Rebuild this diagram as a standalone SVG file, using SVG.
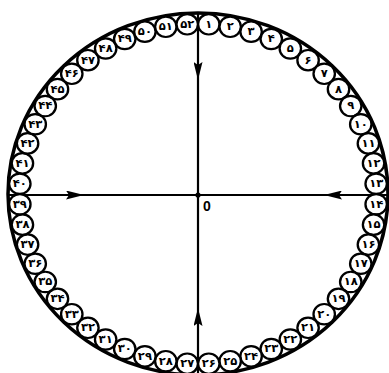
<svg xmlns="http://www.w3.org/2000/svg" width="389" height="373" viewBox="0 0 389 373">
<defs>
<style>
.ring{fill:none;stroke:#000;stroke-width:3.5}
.n circle{fill:#fff;stroke:#000;stroke-width:2.2}
.n text{font-family:"DejaVu Sans","Noto Sans",sans-serif;font-size:11px;font-weight:bold;text-anchor:middle;dominant-baseline:central;fill:#000}
.ax{fill:none;stroke:#000;stroke-width:2.2;marker-mid:url(#ah)}
.lbl{font-family:"Liberation Sans",Arial,sans-serif;font-size:14px;font-weight:bold;fill:#000}
</style>
<marker id="ah" viewBox="0 0 18 9" refX="18" refY="4.5" markerWidth="18" markerHeight="9" markerUnits="userSpaceOnUse" orient="auto">
<path d="M0,0 L18,4.5 L0,9 L3,4.5 Z" fill="#000"/>
</marker>
</defs>
<rect width="389" height="373" fill="#fff"/>
<ellipse class="ring" cx="198" cy="194" rx="190" ry="181"/>
<g id="connectors">
<path class="ax" d="M198,13 L198,80 L198,194"/>
<path class="ax" d="M198,375 L198,308 L198,194"/>
<path class="ax" d="M8,195 L84,195 L198,195"/>
<path class="ax" d="M388,195 L324,195 L198,195"/>
<circle cx="198" cy="195" r="2.6" fill="#000"/>
</g>
<g id="origin"><text class="lbl" x="203" y="211">0</text></g>
<g id="nodes">
<g id="n1" class="n" transform="translate(198,194) scale(1.05,1) rotate(3.4615) translate(0,-170) rotate(-3.4615)"><circle r="10.2"/><text>۱</text></g>
<g id="n2" class="n" transform="translate(198,194) scale(1.05,1) rotate(10.3846) translate(0,-170) rotate(-10.3846)"><circle r="10.2"/><text>۲</text></g>
<g id="n3" class="n" transform="translate(198,194) scale(1.05,1) rotate(17.3077) translate(0,-170) rotate(-17.3077)"><circle r="10.2"/><text>۳</text></g>
<g id="n4" class="n" transform="translate(198,194) scale(1.05,1) rotate(24.2308) translate(0,-170) rotate(-24.2308)"><circle r="10.2"/><text>۴</text></g>
<g id="n5" class="n" transform="translate(198,194) scale(1.05,1) rotate(31.1538) translate(0,-170) rotate(-31.1538)"><circle r="10.2"/><text>۵</text></g>
<g id="n6" class="n" transform="translate(198,194) scale(1.05,1) rotate(38.0769) translate(0,-170) rotate(-38.0769)"><circle r="10.2"/><text>۶</text></g>
<g id="n7" class="n" transform="translate(198,194) scale(1.05,1) rotate(45) translate(0,-170) rotate(-45)"><circle r="10.2"/><text>۷</text></g>
<g id="n8" class="n" transform="translate(198,194) scale(1.05,1) rotate(51.9231) translate(0,-170) rotate(-51.9231)"><circle r="10.2"/><text>۸</text></g>
<g id="n9" class="n" transform="translate(198,194) scale(1.05,1) rotate(58.8462) translate(0,-170) rotate(-58.8462)"><circle r="10.2"/><text>۹</text></g>
<g id="n10" class="n" transform="translate(198,194) scale(1.05,1) rotate(65.7692) translate(0,-170) rotate(-65.7692)"><circle r="10.2"/><text>۱۰</text></g>
<g id="n11" class="n" transform="translate(198,194) scale(1.05,1) rotate(72.6923) translate(0,-170) rotate(-72.6923)"><circle r="10.2"/><text>۱۱</text></g>
<g id="n12" class="n" transform="translate(198,194) scale(1.05,1) rotate(79.6154) translate(0,-170) rotate(-79.6154)"><circle r="10.2"/><text>۱۲</text></g>
<g id="n13" class="n" transform="translate(198,194) scale(1.05,1) rotate(86.5385) translate(0,-170) rotate(-86.5385)"><circle r="10.2"/><text>۱۳</text></g>
<g id="n14" class="n" transform="translate(198,194) scale(1.05,1) rotate(93.4615) translate(0,-170) rotate(-93.4615)"><circle r="10.2"/><text>۱۴</text></g>
<g id="n15" class="n" transform="translate(198,194) scale(1.05,1) rotate(100.3846) translate(0,-170) rotate(-100.3846)"><circle r="10.2"/><text>۱۵</text></g>
<g id="n16" class="n" transform="translate(198,194) scale(1.05,1) rotate(107.3077) translate(0,-170) rotate(-107.3077)"><circle r="10.2"/><text>۱۶</text></g>
<g id="n17" class="n" transform="translate(198,194) scale(1.05,1) rotate(114.2308) translate(0,-170) rotate(-114.2308)"><circle r="10.2"/><text>۱۷</text></g>
<g id="n18" class="n" transform="translate(198,194) scale(1.05,1) rotate(121.1538) translate(0,-170) rotate(-121.1538)"><circle r="10.2"/><text>۱۸</text></g>
<g id="n19" class="n" transform="translate(198,194) scale(1.05,1) rotate(128.0769) translate(0,-170) rotate(-128.0769)"><circle r="10.2"/><text>۱۹</text></g>
<g id="n20" class="n" transform="translate(198,194) scale(1.05,1) rotate(135) translate(0,-170) rotate(-135)"><circle r="10.2"/><text>۲۰</text></g>
<g id="n21" class="n" transform="translate(198,194) scale(1.05,1) rotate(141.9231) translate(0,-170) rotate(-141.9231)"><circle r="10.2"/><text>۲۱</text></g>
<g id="n22" class="n" transform="translate(198,194) scale(1.05,1) rotate(148.8462) translate(0,-170) rotate(-148.8462)"><circle r="10.2"/><text>۲۲</text></g>
<g id="n23" class="n" transform="translate(198,194) scale(1.05,1) rotate(155.7692) translate(0,-170) rotate(-155.7692)"><circle r="10.2"/><text>۲۳</text></g>
<g id="n24" class="n" transform="translate(198,194) scale(1.05,1) rotate(162.6923) translate(0,-170) rotate(-162.6923)"><circle r="10.2"/><text>۲۴</text></g>
<g id="n25" class="n" transform="translate(198,194) scale(1.05,1) rotate(169.6154) translate(0,-170) rotate(-169.6154)"><circle r="10.2"/><text>۲۵</text></g>
<g id="n26" class="n" transform="translate(198,194) scale(1.05,1) rotate(176.5385) translate(0,-170) rotate(-176.5385)"><circle r="10.2"/><text>۲۶</text></g>
<g id="n27" class="n" transform="translate(198,194) scale(1.05,1) rotate(183.4615) translate(0,-170) rotate(-183.4615)"><circle r="10.2"/><text>۲۷</text></g>
<g id="n28" class="n" transform="translate(198,194) scale(1.05,1) rotate(190.3846) translate(0,-170) rotate(-190.3846)"><circle r="10.2"/><text>۲۸</text></g>
<g id="n29" class="n" transform="translate(198,194) scale(1.05,1) rotate(197.3077) translate(0,-170) rotate(-197.3077)"><circle r="10.2"/><text>۲۹</text></g>
<g id="n30" class="n" transform="translate(198,194) scale(1.05,1) rotate(204.2308) translate(0,-170) rotate(-204.2308)"><circle r="10.2"/><text>۳۰</text></g>
<g id="n31" class="n" transform="translate(198,194) scale(1.05,1) rotate(211.1538) translate(0,-170) rotate(-211.1538)"><circle r="10.2"/><text>۳۱</text></g>
<g id="n32" class="n" transform="translate(198,194) scale(1.05,1) rotate(218.0769) translate(0,-170) rotate(-218.0769)"><circle r="10.2"/><text>۳۲</text></g>
<g id="n33" class="n" transform="translate(198,194) scale(1.05,1) rotate(225) translate(0,-170) rotate(-225)"><circle r="10.2"/><text>۳۳</text></g>
<g id="n34" class="n" transform="translate(198,194) scale(1.05,1) rotate(231.9231) translate(0,-170) rotate(-231.9231)"><circle r="10.2"/><text>۳۴</text></g>
<g id="n35" class="n" transform="translate(198,194) scale(1.05,1) rotate(238.8462) translate(0,-170) rotate(-238.8462)"><circle r="10.2"/><text>۳۵</text></g>
<g id="n36" class="n" transform="translate(198,194) scale(1.05,1) rotate(245.7692) translate(0,-170) rotate(-245.7692)"><circle r="10.2"/><text>۳۶</text></g>
<g id="n37" class="n" transform="translate(198,194) scale(1.05,1) rotate(252.6923) translate(0,-170) rotate(-252.6923)"><circle r="10.2"/><text>۳۷</text></g>
<g id="n38" class="n" transform="translate(198,194) scale(1.05,1) rotate(259.6154) translate(0,-170) rotate(-259.6154)"><circle r="10.2"/><text>۳۸</text></g>
<g id="n39" class="n" transform="translate(198,194) scale(1.05,1) rotate(266.5385) translate(0,-170) rotate(-266.5385)"><circle r="10.2"/><text>۳۹</text></g>
<g id="n40" class="n" transform="translate(198,194) scale(1.05,1) rotate(273.4615) translate(0,-170) rotate(-273.4615)"><circle r="10.2"/><text>۴۰</text></g>
<g id="n41" class="n" transform="translate(198,194) scale(1.05,1) rotate(280.3846) translate(0,-170) rotate(-280.3846)"><circle r="10.2"/><text>۴۱</text></g>
<g id="n42" class="n" transform="translate(198,194) scale(1.05,1) rotate(287.3077) translate(0,-170) rotate(-287.3077)"><circle r="10.2"/><text>۴۲</text></g>
<g id="n43" class="n" transform="translate(198,194) scale(1.05,1) rotate(294.2308) translate(0,-170) rotate(-294.2308)"><circle r="10.2"/><text>۴۳</text></g>
<g id="n44" class="n" transform="translate(198,194) scale(1.05,1) rotate(301.1538) translate(0,-170) rotate(-301.1538)"><circle r="10.2"/><text>۴۴</text></g>
<g id="n45" class="n" transform="translate(198,194) scale(1.05,1) rotate(308.0769) translate(0,-170) rotate(-308.0769)"><circle r="10.2"/><text>۴۵</text></g>
<g id="n46" class="n" transform="translate(198,194) scale(1.05,1) rotate(315) translate(0,-170) rotate(-315)"><circle r="10.2"/><text>۴۶</text></g>
<g id="n47" class="n" transform="translate(198,194) scale(1.05,1) rotate(321.9231) translate(0,-170) rotate(-321.9231)"><circle r="10.2"/><text>۴۷</text></g>
<g id="n48" class="n" transform="translate(198,194) scale(1.05,1) rotate(328.8462) translate(0,-170) rotate(-328.8462)"><circle r="10.2"/><text>۴۸</text></g>
<g id="n49" class="n" transform="translate(198,194) scale(1.05,1) rotate(335.7692) translate(0,-170) rotate(-335.7692)"><circle r="10.2"/><text>۴۹</text></g>
<g id="n50" class="n" transform="translate(198,194) scale(1.05,1) rotate(342.6923) translate(0,-170) rotate(-342.6923)"><circle r="10.2"/><text>۵۰</text></g>
<g id="n51" class="n" transform="translate(198,194) scale(1.05,1) rotate(349.6154) translate(0,-170) rotate(-349.6154)"><circle r="10.2"/><text>۵۱</text></g>
<g id="n52" class="n" transform="translate(198,194) scale(1.05,1) rotate(356.5385) translate(0,-170) rotate(-356.5385)"><circle r="10.2"/><text>۵۲</text></g>
</g>
</svg>
